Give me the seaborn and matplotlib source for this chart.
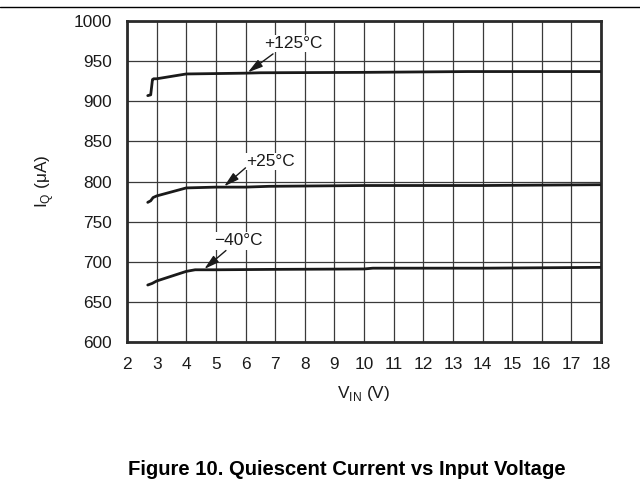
import numpy as np
import pandas as pd
import matplotlib
matplotlib.use("Agg")
import matplotlib.pyplot as plt
import seaborn as sns
from matplotlib.lines import Line2D

# ---------- data -------------------------------------------------------
v_125 = [2.70, 2.80, 2.86, 2.90, 3.00, 3.50, 4.00, 5.00, 6.00, 6.50, 10.0, 13.5, 18.0]
iq_125 = [907, 908, 927, 928, 928, 931, 934, 934.5, 935, 935.5, 936, 937, 937]

v_25 = [2.70, 2.80, 2.88, 3.00, 3.50, 4.00, 5.00, 6.00, 6.80, 10.0, 14.0, 18.0]
iq_25 = [774, 776, 780, 782, 787, 792, 793, 793, 794, 795, 795, 796]

v_m40 = [2.70, 2.85, 3.00, 3.50, 4.00, 4.30, 5.00, 7.00, 10.0, 10.3, 14.0, 18.0]
iq_m40 = [671, 673, 676, 682, 688, 690, 690, 690.5, 691, 692, 692, 693]

temp_labels = ["+125°C", "+25°C", "−40°C"]
# label text centre, arrow tail, arrow head (data coords)
label_text = [(7.6, 972), (6.85, 825), (5.75, 726)]
label_tail = [(6.93, 959), (6.0, 817), (5.34, 714)]
label_head = [(6.08, 936), (5.28, 794), (4.61, 691)]

x_ticks = list(range(2, 19))
y_ticks = list(range(600, 1001, 50))

caption = "Figure 10. Quiescent Current vs Input Voltage"

df = pd.concat([
    pd.DataFrame({"vin": v_125, "iq": iq_125, "temp": "+125°C"}),
    pd.DataFrame({"vin": v_25, "iq": iq_25, "temp": "+25°C"}),
    pd.DataFrame({"vin": v_m40, "iq": iq_m40, "temp": "−40°C"}),
])

sns.set_style("white")
plt.rcParams["font.family"] = ["Liberation Sans", "DejaVu Sans"]
plt.rcParams["mathtext.fontset"] = "custom"
plt.rcParams["mathtext.rm"] = "Liberation Sans"

FS = 12.4
INK = "#1a1a1a"

fig = plt.figure(figsize=(6.4, 4.79), dpi=100)
ax = fig.add_axes([127 / 640, 1 - 342 / 479, 474 / 640, 321 / 479])

for t in temp_labels:
    sub = df[df["temp"] == t]
    sns.lineplot(data=sub, x="vin", y="iq", ax=ax, color=INK, lw=2.0,
                 sort=False, estimator=None, legend=False, zorder=3)

ax.set_xlim(2, 18)
ax.set_ylim(600, 1000)
ax.set_xticks(x_ticks)
ax.set_yticks(y_ticks)
ax.tick_params(length=0, labelsize=FS, colors=INK)
ax.tick_params(axis="x", pad=10.5)
ax.tick_params(axis="y", pad=10.8)
ax.grid(True, color="#3a3a3a", lw=0.9)
for s in ax.spines.values():
    s.set_color("#2a2a2a")
    s.set_linewidth(2.0)

ax.set_xlabel(r"V$_\mathregular{IN}$ (V)", fontsize=FS, labelpad=9, color=INK)
ax.set_ylabel(r"I$_\mathregular{Q}$ ($\mathregular{\mu}$A)", fontsize=FS, labelpad=13, color=INK)

for lab, (tx, ty), (ax0, ay0), (hx, hy) in zip(temp_labels, label_text, label_tail, label_head):
    ax.text(tx, ty, lab, ha="center", va="center", fontsize=FS, color=INK,
            bbox=dict(facecolor="white", edgecolor="none", pad=1), zorder=4)
    ax.annotate("", xy=(hx, hy), xytext=(ax0, ay0),
                arrowprops=dict(arrowstyle="-|>,head_length=0.9,head_width=0.25",
                                color=INK, lw=1.0, shrinkA=0, shrinkB=0),
                zorder=5)

fig.add_artist(Line2D([0, 1], [1 - 7 / 479, 1 - 7 / 479], color="black", lw=1.0))
fig.text(128 / 640, 1 - 475 / 479, caption, ha="left", va="baseline",
         fontsize=14.6, fontweight="bold", color="black")

fig.savefig("out.png", dpi=100)
